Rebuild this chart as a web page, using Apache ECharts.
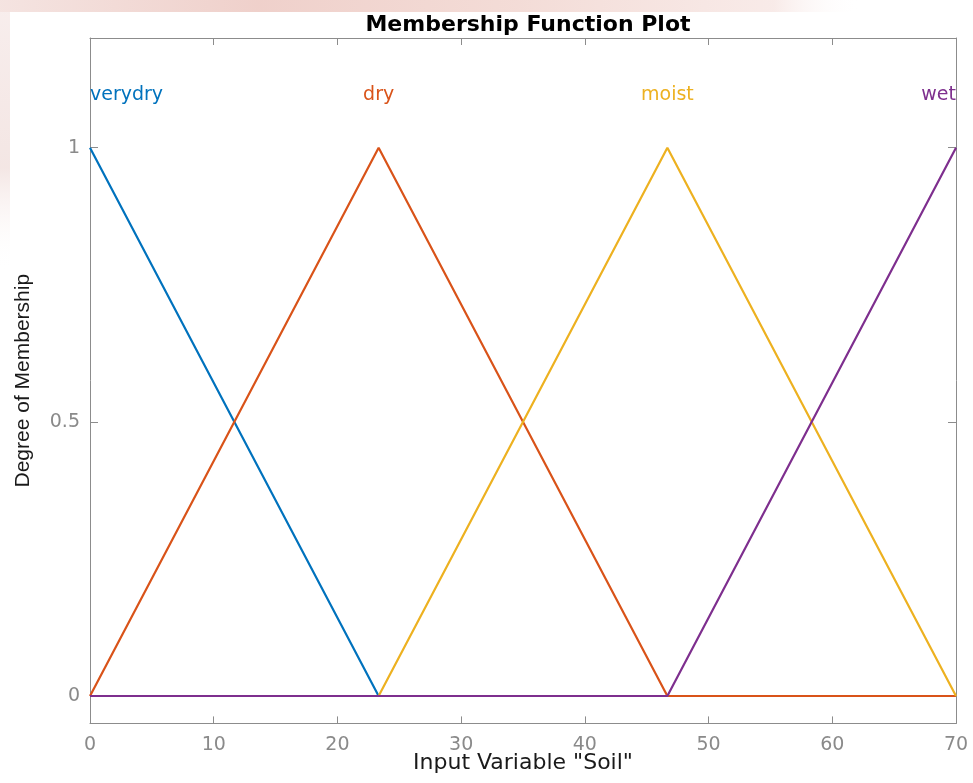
<!DOCTYPE html>
<html>
<head>
<meta charset="utf-8">
<title>Membership Function Plot</title>
<script src="https://cdn.jsdelivr.net/npm/echarts@6/dist/echarts.min.js"></script>
<style>
  html, body { margin: 0; padding: 0; background: #ffffff; }
  #chart { width: 973px; height: 783px; }
</style>
</head>
<body>
<div id="chart"></div>
<script>
// Breakpoints of the triangular membership functions on the "Soil" input
const soil = [0, 23.33, 46.67, 70];

// Degree of membership of each fuzzy set at the breakpoints
const verydry = [1, 0, 0, 0];
const dry = [0, 1, 0, 0];
const moist = [0, 0, 1, 0];
const wet = [0, 0, 0, 1];

const setNames = ['verydry', 'dry', 'moist', 'wet'];
const setValues = [verydry, dry, moist, wet];
const setColors = ['#0072BD', '#D95319', '#EDB120', '#7E2F8E'];

// Each set's name sits above its peak, at this membership level
const nameLevel = 1.1;
const namePeakX = [0, 23.33, 46.67, 70];
const nameAlign = ['left', 'center', 'center', 'right'];

const xTicks = [0, 10, 20, 30, 40, 50, 60, 70];
const yTicks = [0, 0.5, 1];

const textFont = '"DejaVu Sans", sans-serif';
const grey = '#8a8a8a';
const boxGrey = '#8c8c8c';

const chart = echarts.init(document.getElementById('chart'), null, { renderer: 'canvas' });

const series = setNames.map(function (name, i) {
  return {
    name: name,
    type: 'line',
    xAxisIndex: 0,
    yAxisIndex: 0,
    data: soil.map(function (x, k) { return [x, setValues[i][k]]; }),
    symbol: 'none',
    z: 2 + i,
    lineStyle: { color: setColors[i], width: 2.2 },
    itemStyle: { color: setColors[i] },
    markPoint: {
      silent: true,
      symbol: 'circle',
      symbolSize: 0,
      data: [{ coord: [namePeakX[i], nameLevel], value: name }],
      label: {
        show: true,
        position: 'inside',
        offset: [0, 2],
        formatter: name,
        color: setColors[i],
        fontFamily: textFont,
        fontSize: 19,
        align: nameAlign[i],
        verticalAlign: 'middle'
      }
    }
  };
});

function boxAxis(extra) {
  return Object.assign({
    type: 'value',
    axisLine: { show: true, onZero: false, lineStyle: { color: boxGrey, width: 1 } },
    axisTick: { show: true, inside: true, length: 7, lineStyle: { color: boxGrey, width: 1 } },
    splitLine: { show: false }
  }, extra);
}

const option = {
  backgroundColor: '#ffffff',
  animation: false,
  title: {
    text: 'Membership Function Plot',
    left: 523,
    top: 9,
    textAlign: 'center',
    textStyle: { fontFamily: textFont, fontWeight: 'bold', fontSize: 22, color: '#000000' }
  },
  graphic: [
    {
      type: 'rect', silent: true, z: -10,
      shape: { x: 0, y: 0, width: 860, height: 12 },
      style: {
        fill: new echarts.graphic.LinearGradient(0, 0, 1, 0, [
          { offset: 0, color: 'rgba(236,205,200,0.55)' },
          { offset: 0.3, color: 'rgba(226,170,160,0.55)' },
          { offset: 0.6, color: 'rgba(232,185,175,0.5)' },
          { offset: 0.9, color: 'rgba(240,210,205,0.45)' },
          { offset: 1, color: 'rgba(255,255,255,0)' }
        ])
      }
    },
    {
      type: 'rect', silent: true, z: -10,
      shape: { x: 0, y: 12, width: 10, height: 260 },
      style: {
        fill: new echarts.graphic.LinearGradient(0, 0, 0, 1, [
          { offset: 0, color: 'rgba(240,220,218,0.5)' },
          { offset: 0.6, color: 'rgba(230,200,195,0.45)' },
          { offset: 1, color: 'rgba(255,255,255,0)' }
        ])
      }
    }
  ],
  // bottom chosen so the zero level falls on a whole pixel row
  grid: { left: 90, right: 17, top: 38, bottom: 59.58, containLabel: false, outerBoundsMode: 'none' },
  xAxis: [
    boxAxis({
      position: 'bottom',
      min: 0, max: 70, interval: 10,
      name: 'Input Variable "Soil"',
      nameLocation: 'middle',
      nameGap: 29,
      nameMoveOverlap: false,
      nameTextStyle: { fontFamily: textFont, fontSize: 22, color: '#1a1a1a' },
      axisLabel: {
        show: true, margin: 12, color: grey, fontFamily: textFont, fontSize: 19,
        customValues: xTicks
      }
    }),
    boxAxis({
      position: 'top',
      min: 0, max: 70, interval: 10,
      axisLabel: { show: false }
    })
  ],
  yAxis: [
    boxAxis({
      position: 'left',
      min: -0.05, max: 1.2,
      name: 'Degree of Membership',
      nameLocation: 'middle',
      nameGap: 56,
      nameRotate: 90,
      nameMoveOverlap: false,
      nameTextStyle: { fontFamily: '"Liberation Sans", Arial, sans-serif', fontSize: 21, color: '#1a1a1a' },
      axisTick: { show: true, inside: true, length: 8, customValues: yTicks, lineStyle: { color: boxGrey, width: 1 } },
      axisLabel: {
        show: true, margin: 10, color: grey, fontFamily: textFont, fontSize: 19,
        customValues: yTicks
      }
    }),
    boxAxis({
      position: 'right',
      min: -0.05, max: 1.2,
      axisTick: { show: true, inside: true, length: 8, customValues: yTicks, lineStyle: { color: boxGrey, width: 1 } },
      axisLabel: { show: false }
    })
  ],
  series: series
};

chart.setOption(option);
</script>
</body>
</html>
